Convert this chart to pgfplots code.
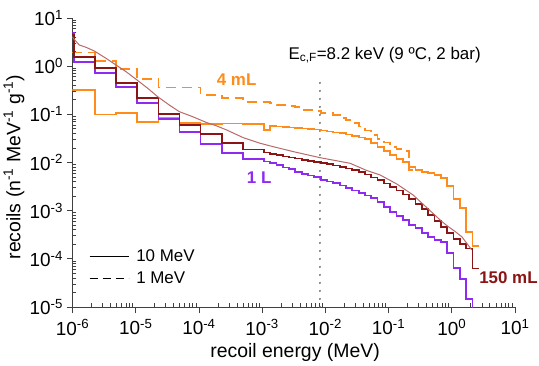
\documentclass[border=0pt]{standalone}
\usepackage{fontspec}
\setmainfont{Liberation Sans}
\usepackage{pgfplots}
\usepackage{pgfplotstable}
\pgfplotsset{compat=1.18}

\definecolor{volA}{RGB}{143,42,240}   % 1 L
\definecolor{volB}{RGB}{255,140,26}   % 4 mL
\definecolor{volC}{RGB}{139,20,20}    % 150 mL
\definecolor{fitC}{RGB}{185,105,105}  % 150 mL, smooth spectrum

% recoil spectra: lower bin edge (MeV) and rate
\pgfplotstableread{
E R
4.93e-7 5.0
1.062e-6 1.239
2.286e-6 0.711
4.93e-6 0.375
1.062e-5 0.1694
2.286e-5 0.0800
4.93e-5 0.0437
1.062e-4 0.0239
2.286e-4 0.01585
4.93e-4 0.01202
1.062e-3 0.0105
1.337e-3 0.00977
1.683e-3 0.00887
2.119e-3 0.00787
2.668e-3 0.00733
3.358e-3 0.00644
4.228e-3 0.00577
5.323e-3 0.00537
6.701e-3 0.00500
8.436e-3 0.00434
1.062e-2 0.00404
1.337e-2 0.00370
1.683e-2 0.00333
2.119e-2 0.00296
2.668e-2 0.00262
3.358e-2 0.00233
4.228e-2 0.00207
5.323e-2 0.00183
6.701e-2 0.00151
8.436e-2 0.00121
1.062e-1 9.53e-4
1.337e-1 7.74e-4
1.683e-1 6.40e-4
2.119e-1 5.05e-4
2.668e-1 4.31e-4
3.358e-1 3.39e-4
4.228e-1 2.88e-4
5.323e-1 2.46e-4
6.701e-1 2.27e-4
8.436e-1 1.30e-4
1.062 6.35e-5
1.337 3.75e-5
1.683 1.45e-5
2.119 1e-6
}\tabOneL

\pgfplotstableread{
E R
4.93e-7 4.5
1.062e-6 1.574
2.286e-6 0.904
4.93e-6 0.454
1.062e-5 0.221
2.286e-5 0.103
4.93e-5 0.0601
1.062e-4 0.0391
2.286e-4 0.0254
4.93e-4 0.0186
1.062e-3 0.01614
1.337e-3 0.01503
1.683e-3 0.01432
2.119e-3 0.01334
2.668e-3 0.01271
3.358e-3 0.01211
4.228e-3 0.01127
5.323e-3 0.01074
6.701e-3 0.01040
8.436e-3 0.00977
1.062e-2 0.00931
1.337e-2 0.00867
1.683e-2 0.00818
2.119e-2 0.00752
2.668e-2 0.00700
3.358e-2 0.00635
4.228e-2 0.00564
5.323e-2 0.00489
6.701e-2 0.00434
8.436e-2 0.00366
1.062e-1 0.00310
1.337e-1 0.00262
1.683e-1 0.00217
2.119e-1 0.00175
2.668e-1 0.00138
3.358e-1 0.00108
4.228e-1 8.13e-4
5.323e-1 6.11e-4
6.701e-1 4.58e-4
8.436e-1 3.44e-4
1.062 2.58e-4
1.337 2.03e-4
1.683 1.64e-4
2.119 6.31e-5
2.668 6.31e-5
}\tabOneFiftyML

\pgfplotstableread{
E R
1e-6 0.320
2.286e-6 0.0993
4.93e-6 0.1052
1.062e-5 0.0703
2.286e-5 0.0828
4.93e-5 0.0652
1.062e-4 0.0630
2.286e-4 0.0646
4.93e-4 0.0630
1.062e-3 0.0473
1.337e-3 0.0573
1.683e-3 0.0560
2.119e-3 0.0546
2.668e-3 0.0533
3.358e-3 0.0520
4.228e-3 0.0508
5.323e-3 0.0497
6.701e-3 0.0484
8.436e-3 0.0461
1.062e-2 0.0441
1.337e-2 0.0420
1.683e-2 0.0404
2.119e-2 0.0382
2.668e-2 0.0355
3.358e-2 0.0330
4.228e-2 0.0303
5.323e-2 0.0251
6.701e-2 0.0207
8.436e-2 0.0176
1.062e-1 0.0143
1.337e-1 0.0118
1.683e-1 0.0104
2.119e-1 0.00796
2.668e-1 0.00700
3.358e-1 0.00627
4.228e-1 0.00597
5.323e-1 0.00551
6.701e-1 0.00470
8.436e-1 0.00325
1.062 0.00172
1.337 0.00112
1.683 3.66e-4
2.119 1.85e-4
2.668 1.85e-4
}\tabFourML

\pgfplotstableread{
E R
1e-6 1.923
2.286e-6 1.279
4.93e-6 0.861
1.062e-5 0.550
2.286e-5 0.361
4.93e-5 0.361
1.062e-4 0.252
2.286e-4 0.215
4.93e-4 0.180
1.062e-3 0.178
1.337e-3 0.172
1.683e-3 0.156
2.119e-3 0.156
2.668e-3 0.149
3.358e-3 0.142
4.228e-3 0.123
5.323e-3 0.123
6.701e-3 0.117
8.436e-3 0.105
1.062e-2 0.105
1.337e-2 0.0968
1.683e-2 0.0828
2.119e-2 0.0764
2.668e-2 0.0652
3.358e-2 0.0560
4.228e-2 0.0461
5.323e-2 0.0372
6.701e-2 0.0308
8.436e-2 0.0260
1.062e-1 0.0213
1.337e-1 0.0191
1.683e-1 0.0173
2.119e-1 0.00700
2.668e-1 0.00700
}\tabFourMLlow

\pgfplotstableread{
E R
1.0e-6 4.1
1.03e-6 3.79
1.28e-6 2.75
1.64e-6 2.46
2.21e-6 2.07
3.39e-6 1.456
4.88e-6 1.057
7.03e-6 0.768
1.05e-5 0.516
1.55e-5 0.347
2.23e-5 0.232
3.40e-5 0.156
4.90e-5 0.1135
7.98e-5 0.0893
1.29e-4 0.0684
1.87e-4 0.0581
2.75e-4 0.0473
5.05e-4 0.0327
9.27e-4 0.0251
1.50e-3 0.0213
3.12e-3 0.0168
8.24e-3 0.0126
2.46e-2 0.00964
4.52e-2 0.00682
7.34e-2 0.00551
0.135 0.00358
0.244 0.00212
0.407 0.00114
0.695 5.96e-4
0.883 4.65e-4
1.127 3.70e-4
1.44 2.88e-4
2.07 1.53e-4
}\tabSmooth

\begin{document}
\begin{tikzpicture}[font=\fontsize{17}{20}\selectfont]
\begin{axis}[
  at={(0,0)}, anchor=south west,
  scale only axis, width=442.5bp, height=289bp,
  xmode=log, ymode=log,
  xmin=1e-6, xmax=10, ymin=1e-5, ymax=10,
  axis lines*=left,
  axis line style={line width=0.8bp, color=black!75},
  tick align=outside,
  major tick length=6bp, minor tick length=-4bp,
  every tick/.style={line width=0.8bp, color=black!75},
  tick label style={font=\fontsize{19}{22}\selectfont},
  xticklabel style={yshift=-3bp},
  xtick={1e-6,1e-5,1e-4,1e-3,1e-2,1e-1,1,10},
  xticklabels={10\textsuperscript{-6},10\textsuperscript{-5},10\textsuperscript{-4},10\textsuperscript{-3},10\textsuperscript{-2},10\textsuperscript{-1},10\textsuperscript{0},10\textsuperscript{1}},
  ytick={1e-5,1e-4,1e-3,1e-2,1e-1,1,10},
  yticklabels={10\textsuperscript{-5},10\textsuperscript{-4},10\textsuperscript{-3},10\textsuperscript{-2},10\textsuperscript{-1},10\textsuperscript{0},10\textsuperscript{1}},
  minor xtick={2e-6,3e-6,4e-6,5e-6,6e-6,7e-6,8e-6,9e-6,
    2e-5,3e-5,4e-5,5e-5,6e-5,7e-5,8e-5,9e-5,
    2e-4,3e-4,4e-4,5e-4,6e-4,7e-4,8e-4,9e-4,
    2e-3,3e-3,4e-3,5e-3,6e-3,7e-3,8e-3,9e-3,
    2e-2,3e-2,4e-2,5e-2,6e-2,7e-2,8e-2,9e-2,
    0.2,0.3,0.4,0.5,0.6,0.7,0.8,0.9,
    2,3,4,5,6,7,8,9},
  minor ytick={2e-5,3e-5,4e-5,5e-5,6e-5,7e-5,8e-5,9e-5,
    2e-4,3e-4,4e-4,5e-4,6e-4,7e-4,8e-4,9e-4,
    2e-3,3e-3,4e-3,5e-3,6e-3,7e-3,8e-3,9e-3,
    2e-2,3e-2,4e-2,5e-2,6e-2,7e-2,8e-2,9e-2,
    0.2,0.3,0.4,0.5,0.6,0.7,0.8,0.9,
    2,3,4,5,6,7,8,9},
  xlabel={recoil energy (MeV)},
  ylabel={recoils (n\textsuperscript{-1} MeV\textsuperscript{-1} g\textsuperscript{-1})},
  label style={font=\fontsize{19.5}{23}\selectfont},
  xlabel style={at={(axis description cs:0.503,-0.156)}, anchor=center},
  ylabel style={at={(axis description cs:-0.132,0.484)}, anchor=center},
  clip mode=individual,
  legend style={draw=none, fill=none, at={(axis description cs:0.037,0.205)},
    anchor=north west, row sep=5bp, inner sep=0pt,
    /tikz/every odd column/.append style={column sep=5bp}},
  legend cell align=left,
  legend image code/.code={\draw[#1] (0bp,0bp) -- (39bp,0bp);},
]
% fluorine recoil threshold
\addplot[forget plot, color=black!60, line width=2bp, dash pattern=on 0.1bp off 7.9bp, line cap=round]
  coordinates {(8.2e-3,1e-5) (8.2e-3,0.469)};

\addplot[forget plot, const plot, color=volB, line width=1.8bp] table[x=E,y=R]{\tabFourML};
\addplot[forget plot, const plot, color=volB, line width=1.8bp, dash pattern=on 10bp off 6bp] table[x=E,y=R]{\tabFourMLlow};
\addplot[forget plot, const plot, color=volA, line width=1.8bp] table[x=E,y=R]{\tabOneL};
\addplot[forget plot, const plot, color=volC, line width=1.8bp] table[x=E,y=R]{\tabOneFiftyML};
\addplot[forget plot, color=fitC, line width=1bp] table[x=E,y=R]{\tabSmooth};

\addlegendimage{black, line width=1.2bp}
\addlegendentry{10 MeV}
\addlegendimage{black, line width=1.2bp, dash pattern=on 8bp off 5bp}
\addlegendentry{1 MeV}

\node[anchor=base west, inner sep=0pt] at (axis cs:2.60e-3,1.389)
  {E\textsubscript{c,F}=8.2 keV (9 ºC, 2 bar)};
\node[anchor=base west, inner sep=0pt, text=volB, font=\bfseries\fontsize{17}{20}\selectfont]
  at (axis cs:1.91e-4,0.406) {4 mL};
\node[anchor=base west, inner sep=0pt, text=volA, font=\bfseries\fontsize{17}{20}\selectfont]
  at (axis cs:5.70e-4,3.70e-3) {1 L};
\node[anchor=base west, inner sep=0pt, text=volC, font=\bfseries\fontsize{17}{20}\selectfont]
  at (axis cs:2.70,3.10e-5) {150 mL};
\end{axis}
\pgfresetboundingbox
\path[use as bounding box] (-72.5bp,-59bp) rectangle (466.5bp,307bp);
\end{tikzpicture}
\end{document}
